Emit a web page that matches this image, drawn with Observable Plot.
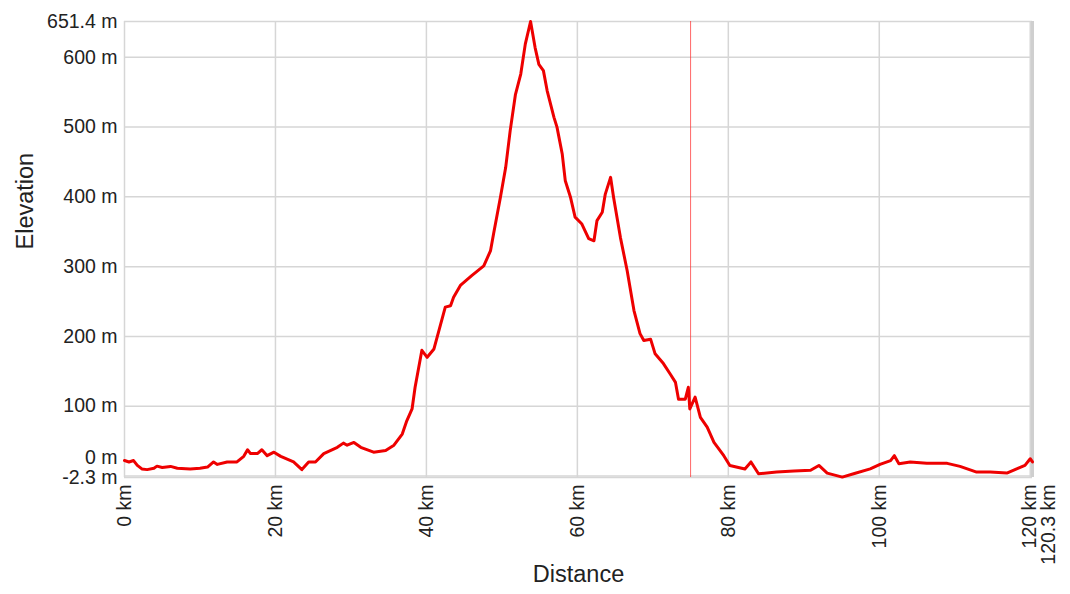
<!DOCTYPE html>
<html><head><meta charset="utf-8">
<script src="https://cdn.jsdelivr.net/npm/d3@7"></script>
<script src="https://cdn.jsdelivr.net/npm/@observablehq/plot@0.6"></script>
<style>body{margin:0;background:#fff;} svg{display:block;}</style>
</head><body><div id="chart"></div>
<script>
const distanceKm = [0,0.6,1.2,1.7,2.3,3.0,3.9,4.3,5.0,6.1,7.0,8.7,10.0,11.0,11.8,12.3,13.6,14.9,15.8,16.3,16.7,17.6,18.2,18.9,19.8,20.7,22.4,23.5,24.4,25.3,26.4,28.2,29.0,29.5,30.4,31.3,33.0,34.6,35.7,36.8,37.4,38.1,38.5,39.4,40.1,41.0,42.5,43.2,43.6,44.5,46.0,47.6,48.5,48.9,49.8,50.5,51.1,51.8,52.5,53.1,53.8,54.4,54.9,55.5,56.0,56.9,57.3,58.0,58.4,59.1,59.7,60.6,61.5,62.2,62.6,63.3,63.7,64.4,64.8,65.7,66.6,67.5,68.3,68.8,69.7,70.3,71.4,72.3,73.0,73.4,74.3,74.7,74.9,75.6,76.3,77.2,78.1,79.4,80.2,82.2,83.0,84.0,86.4,88.7,90.9,92.0,93.1,95.1,96.6,98.8,100.1,101.5,102.0,102.6,104.1,106.3,109.0,110.7,112.9,114.7,116.9,118.2,119.3,120.0,120.3];
const elevationM = [22,20,22,15,10,9,11,14,12,13.6,11,10,11,12.6,20,16.5,20,20,28,37.5,32,32,37.5,29,34,28,20,9,20,20,32,41,47,44,48,41,34,36.5,44,60,79,96,127,180,170,182,242,244,256,273,287,301,323,347,399,442,495,547,576,619,651.4,614,590,581,552,514,500,461,423,399,371,361,340,337,366,378,404,428,399,342,294,237,204,194,196,175,161,146,134,110,110,127,96,113,84,70,48,29,15,10,20,3,5.5,7,8,15,4,-1.7,3,10,16.5,22,29,17.5,20,18,18,13.6,5.5,5.5,4,10,15,24.6,20];
const xTicks = [0,20,40,60,80,100,120];
const xEndKm = 120.3;
const yTicks = [100,200,300,400,500,600];
const yZero = 0;
const yMin = -2.3, yMax = 651.4;
const markerKm = 75;
const xTitle = "Distance", yTitle = "Elevation";

const profile = distanceKm.map((d,i) => ({d, e: elevationM[i]}));
const font = "'Liberation Sans', Arial, sans-serif";
const grid = "#d6d6d6";
const ink = "#222";

const chart = Plot.plot({
  width: 1070, height: 594,
  marginLeft: 124, marginRight: 38, marginTop: 21, marginBottom: 117,
  style: {fontFamily: font, fontSize: "19.5px", color: ink, background: "#fff"},
  x: {domain: [0, xEndKm], axis: null},
  y: {domain: [yMin, yMax], axis: null},
  marks: [
    Plot.gridY([yMin, yZero, ...yTicks, yMax], {stroke: grid, strokeOpacity: 1, strokeWidth: 1.5}),
    Plot.gridX(xTicks, {stroke: grid, strokeOpacity: 1, strokeWidth: 1.5}),
    Plot.ruleX([xEndKm], {stroke: "#cfcfcf", strokeWidth: 3}),
    Plot.ruleX([markerKm], {stroke: "#ff3333", strokeOpacity: 0.75, strokeWidth: 1}),
    Plot.line(profile, {x: "d", y: "e", stroke: "#ee0000", strokeWidth: 3}),
    Plot.axisY(yTicks, {tickSize: 0, tickPadding: 7, tickFormat: d => `${d} m`, label: null, fill: ink}),
    Plot.axisY([yZero], {tickSize: 0, tickPadding: 7, dy: -18, tickFormat: d => `${d} m`, label: null, fill: ink}),
    Plot.axisY([yMin, yMax], {tickSize: 0, tickPadding: 7, tickFormat: d => `${d.toFixed(1)} m`, label: null, fill: ink}),
    Plot.text(xTicks, {x: d => d, frameAnchor: "bottom", rotate: -90, textAnchor: "end", lineAnchor: "middle", dy: 7, text: d => `${d} km`, fill: ink}),
    Plot.text([xEndKm], {x: d => d, frameAnchor: "bottom", rotate: -90, textAnchor: "end", lineAnchor: "middle", dy: 7, dx: 16, text: d => `${d} km`, fill: ink}),
    Plot.text([xTitle], {text: d => d, frameAnchor: "bottom", dy: 104, fontSize: 23.5, fill: ink}),
    Plot.text([yTitle], {text: d => d, frameAnchor: "left", dx: -99, rotate: -90, fontSize: 23.5, fill: ink})
  ]
});
document.getElementById("chart").appendChild(chart);
</script>
</body></html>
